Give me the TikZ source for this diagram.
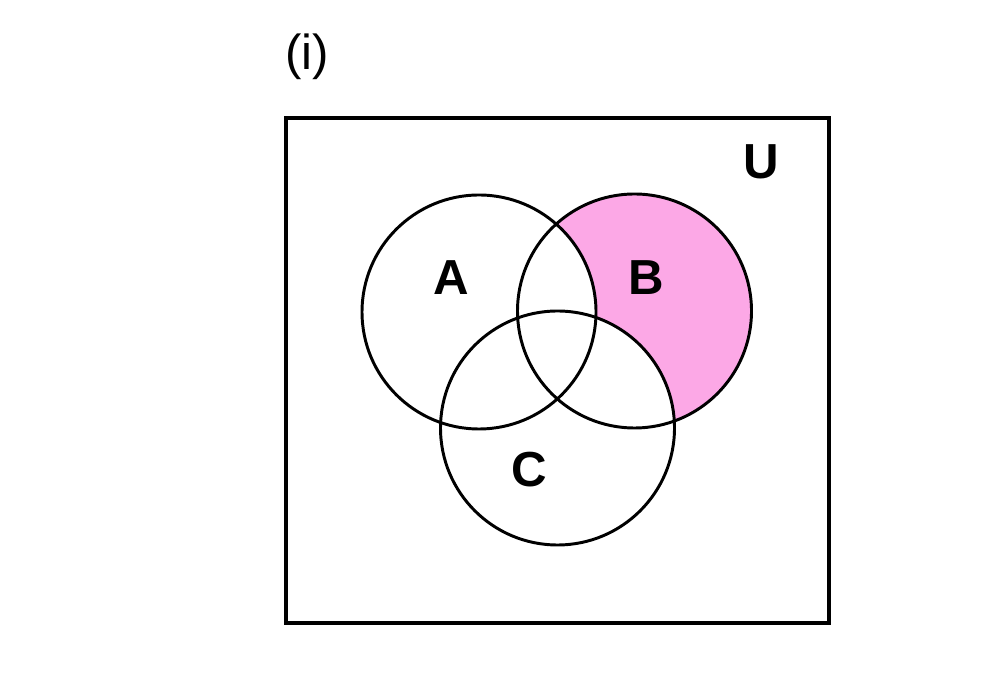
\documentclass[tikz,border=0pt]{standalone}
\usepackage{fontspec}
\setmainfont{Liberation Sans}
\usepackage{tikz}
\definecolor{shadepink}{RGB}{252,168,230}

\begin{document}
\begin{tikzpicture}[
    setcircle/.style={draw,circle,line width=2.1pt,minimum size=5.85cm},
    setlabel/.style={font=\fontsize{35}{40}\selectfont\bfseries}]
  \useasboundingbox (0,0) rectangle (25,17.175);

  \coordinate (centA) at (11.975, 9.375);
  \coordinate (centB) at (15.8625, 9.4);
  \coordinate (centC) at (13.9375, 6.475);

  % B only
  \fill[shadepink] (centB) circle (2.925);
  \fill[white] (centA) circle (2.925);
  \fill[white] (centC) circle (2.925);

  \node (title) at (7.675, 15.75) {\fontsize{35}{40}\selectfont (i)};
  \draw[line width=2.3pt] (7.15,1.6) rectangle (20.725,14.225);
  \node[setlabel] (labelU) at (19.025, 13.125) {U};

  \node[setcircle] (setA) at (centA) {};
  \node[setcircle] (setB) at (centB) {};
  \node[setcircle] (setC) at (centC) {};

  \node[setlabel] (labelA) at (11.275, 10.225) {A};
  \node[setlabel] (labelB) at (16.15, 10.225) {B};
  \node[setlabel] (labelC) at (13.225, 5.425) {C};
\end{tikzpicture}
\end{document}
